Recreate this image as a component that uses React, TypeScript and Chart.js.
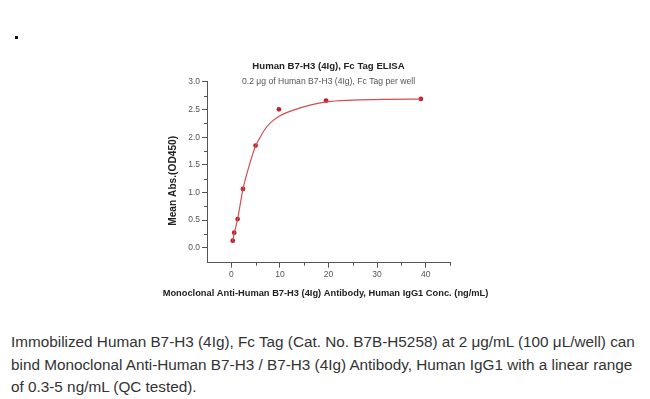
import React, { useEffect, useRef } from "react";
import { Chart, registerables } from "chart.js";

Chart.register(...registerables);

// ---- data ----
const concentrations = [0.3, 0.6, 1.3, 2.4, 5.0, 9.8, 19.5, 39.0];
const meanAbs = [0.128, 0.273, 0.52, 1.064, 1.85, 2.506, 2.662, 2.693];
const fitX = [0.3, 0.6, 1.3, 2.4, 3.6, 5.0, 6.0, 7.3, 8.7, 10, 12.8, 16.2, 19.6, 25, 32, 39];
const fitY = [0.12, 0.26, 0.52, 1.06, 1.46, 1.84, 2.01, 2.19, 2.31, 2.39, 2.49, 2.58, 2.64, 2.67, 2.685, 2.69];
const xMajorTicks = [0, 10, 20, 30, 40];
const yMajorTicks = [0, 0.5, 1.0, 1.5, 2.0, 2.5, 3.0];
const xMinorTicks = [5, 15, 25, 35, 45];
const yMinorTicks = [0.25, 0.75, 1.25, 1.75, 2.25, 2.75];

const chartTitle = "Human B7-H3 (4Ig), Fc Tag ELISA";
const chartSubtitle = "0.2 μg of Human B7-H3 (4Ig), Fc Tag per well";
const yTitle = "Mean Abs.(OD450)";
const xTitle = "Monoclonal Anti-Human B7-H3 (4Ig) Antibody, Human IgG1 Conc. (ng/mL)";
const captionLines = [
  "Immobilized Human B7-H3 (4Ig), Fc Tag (Cat. No. B7B-H5258) at 2 μg/mL (100 μL/well) can",
  "bind Monoclonal Anti-Human B7-H3 / B7-H3 (4Ig) Antibody, Human IgG1 with a linear range",
  "of 0.3-5 ng/mL (QC tested).",
];

const FONT = "'Liberation Sans', Arial, sans-serif";
const AXIS = "#555555";

const minorTickPlugin = {
  id: "minorTicks",
  afterDraw(chart: any) {
    const { ctx, chartArea, scales } = chart;
    ctx.save();
    ctx.strokeStyle = AXIS;
    ctx.lineWidth = 1;
    const xs = scales.x;
    xMinorTicks.forEach((v) => {
      const px = Math.round(xs.getPixelForValue(v)) + 0.5;
      ctx.beginPath();
      ctx.moveTo(px, chartArea.bottom);
      ctx.lineTo(px, chartArea.bottom + 3);
      ctx.stroke();
    });
    const ys = scales.y;
    yMinorTicks.forEach((v) => {
      const py = Math.round(ys.getPixelForValue(v)) + 0.5;
      ctx.beginPath();
      ctx.moveTo(chartArea.left, py);
      ctx.lineTo(chartArea.left - 3, py);
      ctx.stroke();
    });
    // x-axis title (wider than the plot area, so drawn here without squeezing)
    ctx.fillStyle = "#222";
    ctx.font = "bold 9.3px " + FONT;
    ctx.textAlign = "center";
    ctx.textBaseline = "middle";
    ctx.fillText(xTitle, (chartArea.left + chartArea.right) / 2 - 3, chartArea.bottom + 30.3);
    ctx.restore();
  },
};

function ElisaChart() {
  const ref = useRef<HTMLCanvasElement | null>(null);
  useEffect(() => {
    if (!ref.current) return;
    const chart = new Chart(ref.current, {
      type: "scatter",
      data: {
        datasets: [
          {
            label: "fit",
            data: fitX.map((x, i) => ({ x, y: fitY[i] })),
            showLine: true,
            borderColor: "rgb(212,78,78)",
            borderWidth: 1.2,
            pointRadius: 0,
            cubicInterpolationMode: "monotone",
            fill: false,
          },
          {
            label: "data",
            data: concentrations.map((x, i) => ({ x, y: meanAbs[i] })),
            showLine: false,
            pointRadius: 2.4,
            pointBackgroundColor: "rgb(190,35,45)",
            pointBorderColor: "rgb(190,35,45)",
            pointBorderWidth: 0,
          },
        ],
      },
      options: {
        responsive: false,
        animation: false,
        layout: { padding: { left: 150, right: 200, top: 0, bottom: 0 } },
        plugins: {
          legend: { display: false },
          tooltip: { enabled: false },
          title: {
            display: true,
            text: chartTitle,
            fullSize: false,
            color: "#222",
            font: { family: FONT, size: 9.6, weight: "bold" },
            padding: { top: 60.2, bottom: 0 },
          },
          subtitle: {
            display: true,
            text: chartSubtitle,
            fullSize: false,
            color: "#555",
            font: { family: FONT, size: 8.6 },
            padding: { top: 4.8, bottom: -4.86 },
          },
        },
        scales: {
          x: {
            type: "linear",
            min: -5,
            max: 45,
            afterFit: (s: any) => {
              s.height = 47.3;
            },
            afterBuildTicks: (s: any) => {
              s.ticks = xMajorTicks.map((value) => ({ value }));
            },
            ticks: {
              padding: 2,
              color: AXIS,
              font: { family: FONT, size: 8.5 },
              callback: (v: any) => String(v),
            },
            grid: {
              drawOnChartArea: false,
              drawTicks: true,
              tickLength: 5,
              tickColor: AXIS,
            },
            border: { display: true, color: AXIS, width: 1 },
            title: { display: false },
          },
          y: {
            type: "linear",
            min: -0.27,
            max: 3,
            afterFit: (s: any) => {
              s.width = 57;
            },
            afterBuildTicks: (s: any) => {
              s.ticks = yMajorTicks.map((value) => ({ value }));
            },
            ticks: {
              padding: 2,
              color: AXIS,
              font: { family: FONT, size: 8.5 },
              callback: (v: any) => Number(v).toFixed(1),
            },
            grid: {
              drawOnChartArea: false,
              drawTicks: true,
              tickLength: 5,
              tickColor: AXIS,
            },
            border: { display: true, color: AXIS, width: 1 },
            title: {
              display: true,
              text: yTitle + "      ",
              color: "#222",
              font: { family: FONT, size: 10.2, weight: "bold" },
              padding: { top: 16.9, bottom: 0 },
            },
          },
        },
      },
      plugins: [minorTickPlugin],
    } as any);
    return () => chart.destroy();
  }, []);
  return <canvas ref={ref} width={650} height={310} style={{ display: "block" }} />;
}

export default function App() {
  return (
    <div style={{ position: "absolute", left: 0, top: 0, width: 650, height: 399, background: "#fff", overflow: "hidden" }}>
      <div style={{ position: "absolute", left: 15, top: 36, width: 3, height: 3, background: "#111" }} />
      <div style={{ position: "absolute", left: 0, top: 0 }}>
        <ElisaChart />
      </div>
      {captionLines.map((line, i) => (
        <div
          key={i}
          style={{
            position: "absolute",
            left: 11,
            top: 333 + i * 22.7,
            whiteSpace: "nowrap",
            fontFamily: FONT,
            fontSize: 15.3,
            lineHeight: "18px",
            color: "#333",
          }}
        >
          {line}
        </div>
      ))}
    </div>
  );
}
